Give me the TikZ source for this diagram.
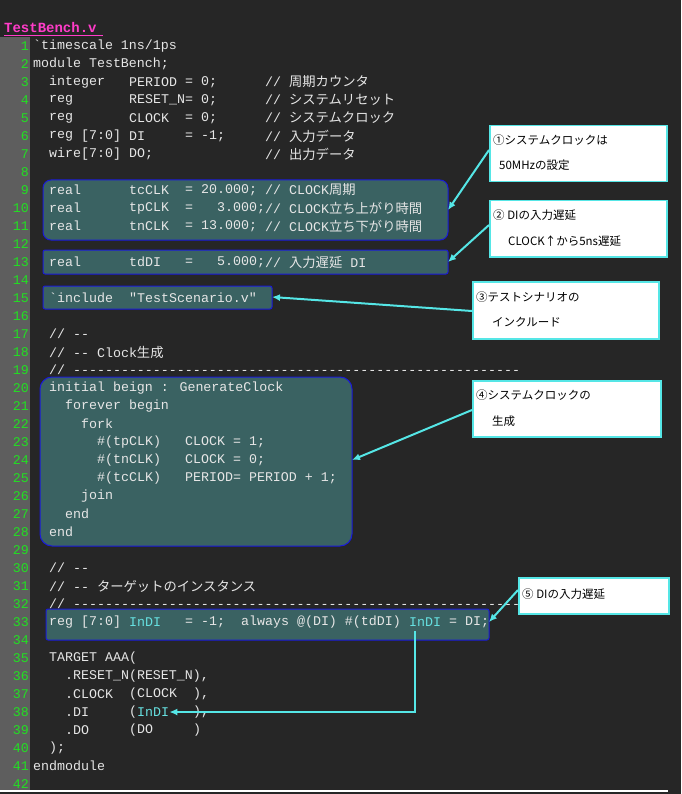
\documentclass[tikz,border=0pt]{standalone}
\usepackage{fontspec}
\usetikzlibrary{arrows.meta}
\newfontfamily\mono{Liberation Mono}
\newfontfamily\cjk{Noto Sans CJK JP}
\definecolor{bg}{HTML}{262626}
\definecolor{gut}{HTML}{5E5E5E}
\definecolor{num}{HTML}{22E022}
\definecolor{txt}{HTML}{E6E6E6}
\definecolor{boxf}{HTML}{3A6262}
\definecolor{boxd}{HTML}{1A1AD8}
\definecolor{cy}{HTML}{55E6E6}
\definecolor{cytext}{HTML}{66E0E0}
\definecolor{pink}{HTML}{FF3CC8}
\newcommand{\J}[1]{{\cjk #1}}
\newcommand{\seg}[4][txt]{\node[code,text=#1] (l#2c#3) at ({33+8*#3},{46+18*(#2-1)}) {#4};}
\newcommand{\BQ}{\symbol{96}}
\begin{document}
\begin{tikzpicture}[x=1pt,y=-1pt,
  code/.style={anchor=west,inner sep=0pt,font=\mono\fontsize{13.3}{14}\selectfont},
  lnum/.style={anchor=east,inner sep=0pt,text=num,font=\mono\fontsize{13.3}{14}\selectfont},
  hbox/.style={draw=boxd,fill=boxf,line width=1pt,rounded corners=5pt},
  call/.style={draw=cy,fill=white,line width=1.5pt,anchor=north west,inner sep=0pt},
  ctext/.style={anchor=west,inner sep=0pt,font=\cjk\fontsize{11.5}{13}\selectfont,text=black},
  arr/.style={draw=cy,line width=2pt,-{Latex[length=8pt,width=7pt]}}]
\useasboundingbox (0,0) rectangle (681,794);
\fill[bg] (0,0) rectangle (681,794);
\fill[gut] (0,37) rectangle (30,790);
\draw[white,line width=1.5pt] (0,791) -- (668,791);
\node[anchor=west,inner sep=0pt,text=pink,font=\mono\bfseries\fontsize{14}{16}\selectfont] (title) at (4,27) {TestBench.v};
\draw[pink,line width=1pt] (4,36) -- (103,36);
% highlight boxes
\draw[hbox,rounded corners=8pt] (43,180) rectangle (448,240);
\coordinate (b1) at (448,210);
\draw[hbox,rounded corners=2pt] (43,250) rectangle (448,274);
\coordinate (b2) at (448,262);
\draw[hbox,rounded corners=2pt] (43,286) rectangle (272,309);
\coordinate (b3) at (272,297);
\draw[hbox,rounded corners=12pt] (40,377) rectangle (352,546);
\coordinate (b4) at (352,460);
\draw[hbox,rounded corners=2pt] (46,609) rectangle (489,640);
\coordinate (b5) at (489,622);
% line numbers
\foreach \n in {1,...,42} {\node[lnum] (n\n) at (29,{46+18*(\n-1)}) {\n};}
% code
\seg{1}{0}{\BQ timescale 1ns/1ps}
\seg{2}{0}{module TestBench;}
\seg{3}{2}{integer}\seg{3}{12}{PERIOD}\seg{3}{19}{= 0;}\seg{3}{29}{// \J{周期カウンタ}}
\seg{4}{2}{reg}\seg{4}{12}{RESET\_N= 0;}\seg{4}{29}{// \J{システムリセット}}
\seg{5}{2}{reg}\seg{5}{12}{CLOCK}\seg{5}{19}{= 0;}\seg{5}{29}{// \J{システムクロック}}
\seg{6}{2}{reg}\seg{6}{6}{[7:0]}\seg{6}{12}{DI}\seg{6}{19}{= -1;}\seg{6}{29}{// \J{入力データ}}
\seg{7}{2}{wire[7:0]}\seg{7}{12}{DO;}\seg{7}{29}{// \J{出力データ}}
\seg{9}{2}{real}\seg{9}{12}{tcCLK}\seg{9}{19}{= 20.000;}\seg{9}{29}{// CLOCK\J{周期}}
\seg{10}{2}{real}\seg{10}{12}{tpCLK}\seg{10}{19}{=}\seg{10}{23}{3.000;}\seg{10}{29}{// CLOCK\J{立ち上がり時間}}
\seg{11}{2}{real}\seg{11}{12}{tnCLK}\seg{11}{19}{= 13.000;}\seg{11}{29}{// CLOCK\J{立ち下がり時間}}
\seg{13}{2}{real}\seg{13}{12}{tdDI}\seg{13}{19}{=}\seg{13}{23}{5.000;}\seg{13}{29}{// \J{入力遅延} DI}
\seg{15}{2}{\BQ include}\seg{15}{12}{"TestScenario.v"}
\seg{17}{2}{// --}
\seg{18}{2}{// -- Clock\J{生成}}
\seg{19}{2}{// --------------------------------------------------------}
\seg{20}{2}{initial beign : GenerateClock}
\seg{21}{4}{forever begin}
\seg{22}{6}{fork}
\seg{23}{8}{\#(tpCLK)}\seg{23}{19}{CLOCK = 1;}
\seg{24}{8}{\#(tnCLK)}\seg{24}{19}{CLOCK = 0;}
\seg{25}{8}{\#(tcCLK)}\seg{25}{19}{PERIOD= PERIOD + 1;}
\seg{26}{6}{join}
\seg{27}{4}{end}
\seg{28}{2}{end}
\seg{30}{2}{// --}
\seg{31}{2}{// -- \J{ターゲットのインスタンス}}
\seg{32}{2}{// ----------------------------------------------------------}
\seg{33}{2}{reg [7:0]}\seg[cytext]{33}{12}{InDI}\seg{33}{19}{= -1;}\seg{33}{26}{always @(DI) \#(tdDI)}\seg[cytext]{33}{47}{InDI}\seg{33}{52}{= DI;}
\seg{35}{2}{TARGET AAA(}
\seg{36}{4}{.RESET\_N(RESET\_N),}
\seg{37}{4}{.CLOCK}\seg{37}{12}{(CLOCK}\seg{37}{20}{),}
\seg{38}{4}{.DI}\seg{38}{12}{(}\seg[cytext]{38}{13}{InDI}\seg{38}{20}{),}
\seg{39}{4}{.DO}\seg{39}{12}{(DO}\seg{39}{20}{)}
\seg{40}{2}{);}
\seg{41}{0}{endmodule}
% callouts
\node[call,minimum width=177pt,minimum height=56pt] (c1) at (489,125) {};
\node[ctext] (t1a) at (493,140) {①システムクロックは};
\node[ctext] (t1b) at (499,165) {50MHzの設定};
\node[call,minimum width=177pt,minimum height=56pt] (c2) at (489,200) {};
\node[ctext] (t2a) at (493,215) {② DIの入力遅延};
\node[ctext] (t2b) at (508,241) {CLOCK↑から5ns遅延};
\node[call,minimum width=186pt,minimum height=57pt] (c3) at (472,281) {};
\node[ctext] (t3a) at (476,297) {③テストシナリオの};
\node[ctext] (t3b) at (492,322) {インクルード};
\node[call,minimum width=188pt,minimum height=56pt] (c4) at (472,380) {};
\node[ctext] (t4a) at (476,395) {④システムクロックの};
\node[ctext] (t4b) at (492,421) {生成};
\node[call,minimum width=150pt,minimum height=36pt] (c5) at (518,577) {};
\node[ctext] (t5a) at (522,594) {⑤ DIの入力遅延};
% arrows
\draw[arr] (c1.west |- 0,150) -- (b1);
\draw[arr] (c2.west |- 0,225) -- (b2);
\draw[arr] (c3.west |- 0,311) -- (b3);
\draw[arr] (c4.west |- 0,410) -- (b4);
\draw[arr] (c5.west |- 0,590) -- (b5);
\coordinate (s5) at (415,631);
\draw[arr,line width=1.8pt] (s5) -- (415,712) -- (l38c13.east |- 0,712);
\end{tikzpicture}
\end{document}
